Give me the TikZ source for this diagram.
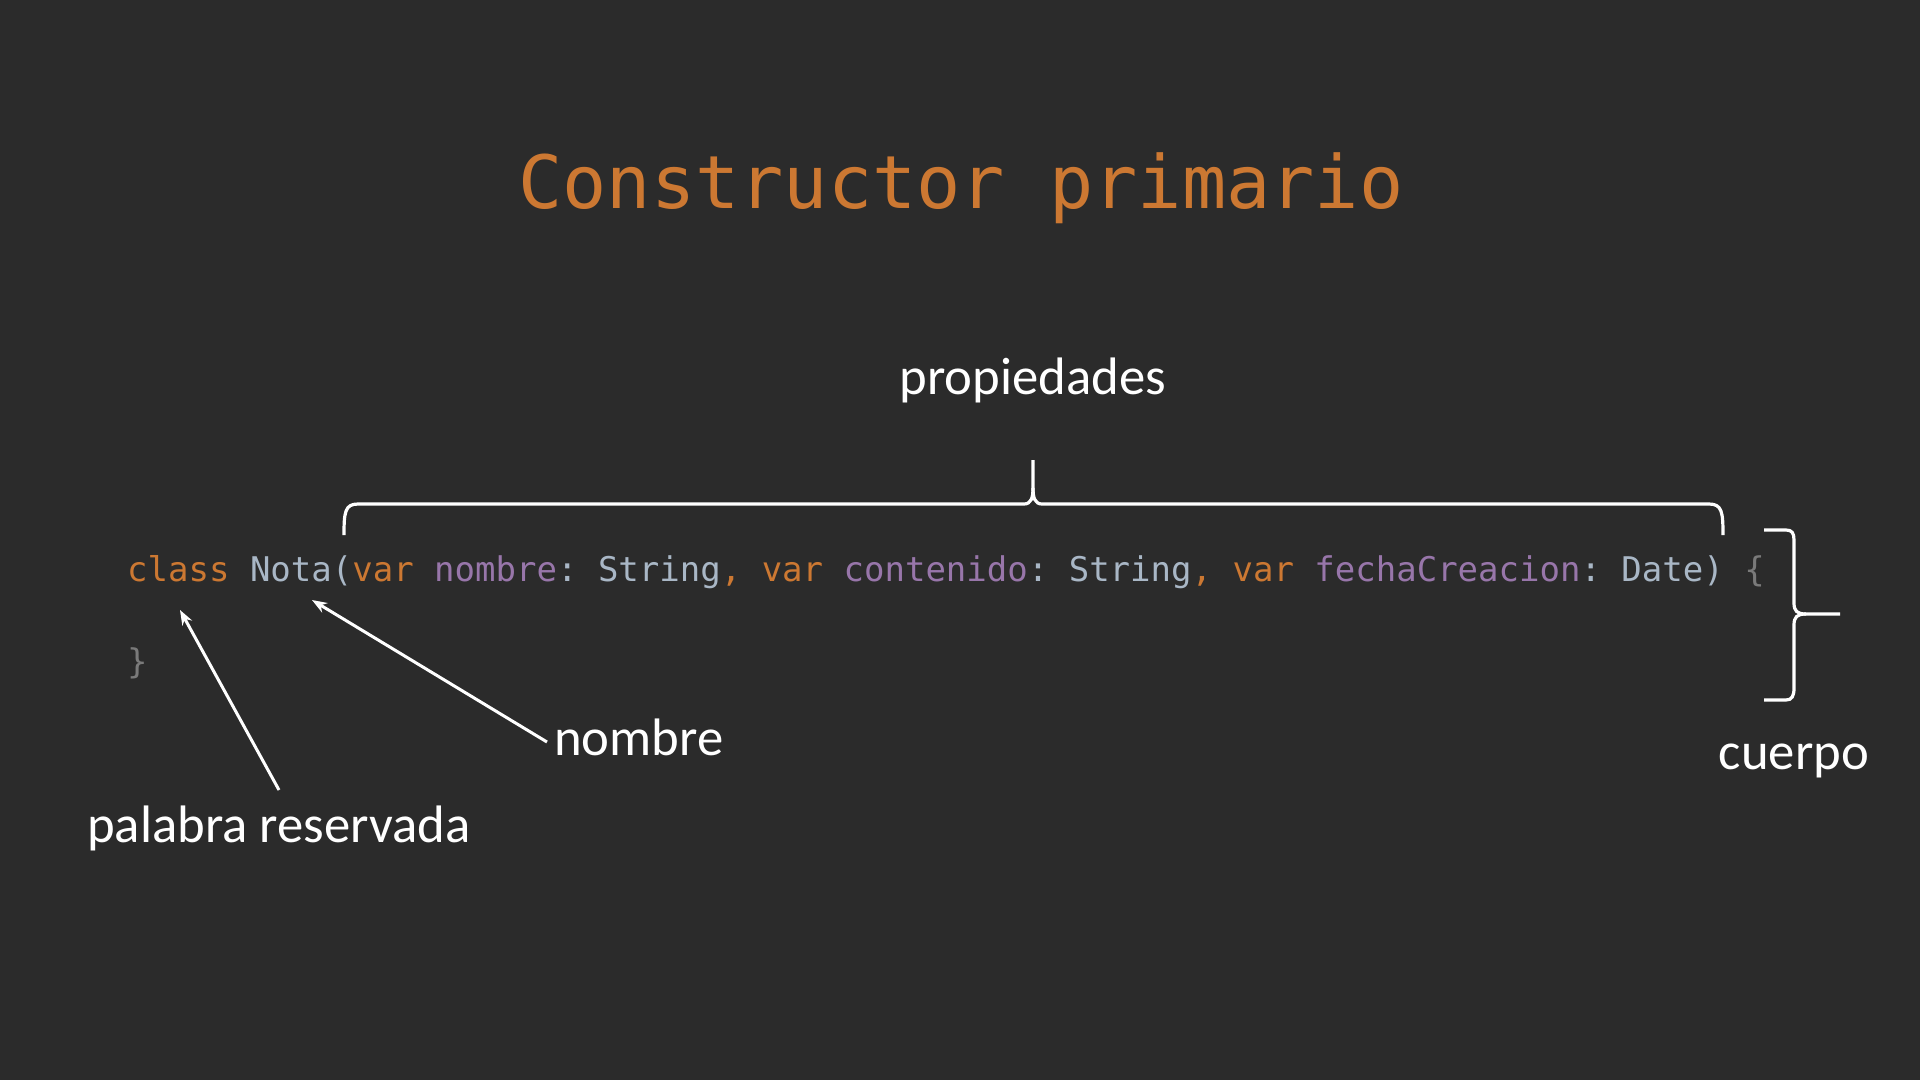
\documentclass[tikz,border=0pt]{standalone}
\usepackage{fontspec}
\setmainfont{Carlito}
\setmonofont{DejaVu Sans Mono}
\usetikzlibrary{arrows.meta}

\definecolor{bgc}{HTML}{2B2B2B}
\definecolor{kwc}{HTML}{CC7832}
\definecolor{prc}{HTML}{9876AA}
\definecolor{dfc}{HTML}{A9B7C6}
\definecolor{brc}{HTML}{7A7A7A}

% syntax colouring helpers
\newcommand\ckw[1]{\textcolor{kwc}{#1}}
\newcommand\cpr[1]{\textcolor{prc}{#1}}
\newcommand\cdf[1]{\textcolor{dfc}{#1}}
\newcommand\cbr[1]{\textcolor{brc}{#1}}

\tikzset{
  titletext/.style={anchor=base, inner sep=0pt, text=kwc,
    font=\ttfamily\fontsize{73.5}{80}\selectfont},
  codetext/.style={anchor=base west, inner sep=0pt, text=dfc,
    font=\ttfamily\fontsize{34}{40}\selectfont},
  labeltext/.style={inner sep=0pt, text=white,
    font=\fontsize{52.7}{60}\selectfont},
  bracket/.style={draw=white, line width=3.2pt, line join=round},
  pointer/.style={draw=white, line width=3pt,
    -{Stealth[length=15pt,width=11pt]}},
}

\begin{document}
\begin{tikzpicture}[x=1pt,y=-1pt]
  % canvas
  \fill[bgc] (0,0) rectangle (1920,1080);
  \useasboundingbox (0,0) rectangle (1920,1080);

  % heading
  \node[titletext] (title) at (961,208) {Constructor primario};

  % source code
  \node[codetext] (code) at (127,581)
    {\ckw{class} \cdf{Nota(}\ckw{var} \cpr{nombre}\cdf{: String}\ckw{,} \ckw{var} \cpr{contenido}\cdf{: String}\ckw{,} \ckw{var} \cpr{fechaCreacion}\cdf{: Date)} \cbr{\{}};
  \node[codetext] (close) at (127,673) {\cbr{\}}};

  % labels
  \node[labeltext, anchor=base] (prop) at (1033,394) {propiedades};
  \node[labeltext, anchor=base] (body) at (1794,769) {cuerpo};
  \node[labeltext, anchor=base west] (nom) at (554,755) {nombre};
  \node[labeltext, anchor=base west] (kw) at (87,842) {palabra reservada};

  % arrow ends
  \coordinate (kwtip) at (180,610);
  \coordinate (kwtail) at (279,790);
  \coordinate (nomtip) at (312,600);
  \coordinate (nomtail) at (547,742);

  % pointers
  \draw[pointer] (kwtail) -- (kwtip);
  \draw[pointer] (nomtail) -- (nomtip);

  % brace over the parameter list
  \draw[bracket] (344,535) .. controls (344,512) and (345,504) .. (358,504)
    -- (1024,504) .. controls (1031,504) and (1033,498) .. (1033,488) -- (1033,460);
  \draw[bracket] (1033,488) .. controls (1033,498) and (1035,504) .. (1042,504)
    -- (1709,504) .. controls (1722,504) and (1723,512) .. (1723,535);

  % brace beside the class body
  \draw[bracket] (1764,530) -- (1786,530) .. controls (1792,530) and (1794,533) .. (1794,540)
    -- (1794,603) .. controls (1794,611) and (1797,614) .. (1806,614) -- (1840,614);
  \draw[bracket] (1806,614) .. controls (1797,614) and (1794,617) .. (1794,625)
    -- (1794,688) .. controls (1794,696) and (1792,700) .. (1786,700) -- (1764,700);
\end{tikzpicture}
\end{document}
